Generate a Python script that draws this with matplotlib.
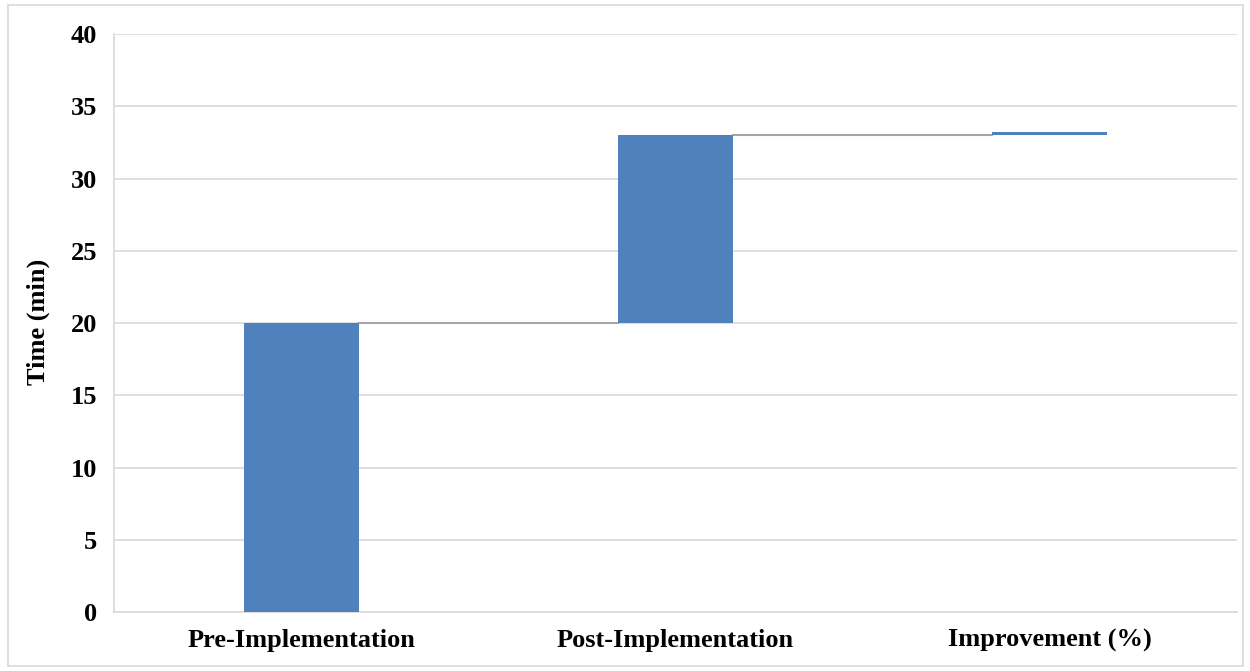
import matplotlib
matplotlib.use("Agg")
import matplotlib.pyplot as plt
from matplotlib.patches import Rectangle

categories = ["Pre-Implementation", "Post-Implementation", "Improvement (%)"]
changes = [20, 13, 0.2]

bar_color = "#4F81BD"
grid_color = "#D9D9D9"
conn_color = "#A6A6A6"

plt.rcParams["font.family"] = ["Liberation Serif", "DejaVu Serif"]
FS = 19

fig = plt.figure(figsize=(12.5, 6.71), dpi=100)
ax = fig.add_axes([0.0912, 0.0879, 0.8984, 0.8614])

# waterfall: each bar starts where the previous one ended
bottoms = []
running = 0
for c in changes:
    bottoms.append(running)
    running += c
tops = [b + c for b, c in zip(bottoms, changes)]

x = list(range(len(categories)))
width = 0.307
ax.bar(x, changes, bottom=bottoms, width=width, color=bar_color, zorder=3)

# connector lines between bars
for i in range(len(categories) - 1):
    ax.plot([x[i] + width / 2, x[i + 1] - width / 2], [tops[i], tops[i]],
            color=conn_color, linewidth=1.5, zorder=2)

ax.set_xlim(-0.5, len(categories) - 0.5)
ax.set_ylim(0, 40)
ax.set_yticks(range(0, 41, 5))
ax.set_xticks(x)
ax.set_xticklabels(categories, fontsize=FS, fontweight="bold")
for lbl in ax.get_yticklabels():
    lbl.set_fontsize(FS)
    lbl.set_fontweight("bold")
ax.tick_params(length=0)
ax.tick_params(axis="y", pad=12)
ax.tick_params(axis="x", pad=12)
ax.set_ylabel("Time (min)", fontsize=FS, fontweight="bold")
ax.yaxis.set_label_coords(-0.057, 0.502)

ax.grid(True, axis="y", color=grid_color, linewidth=1.2, zorder=0)
for s in ["top", "right"]:
    ax.spines[s].set_visible(False)
ax.spines["left"].set_color(grid_color)
ax.spines["bottom"].set_color(grid_color)
ax.spines["left"].set_linewidth(1.2)
ax.spines["bottom"].set_linewidth(1.2)

# thin grey border around the whole picture
fig.patches.append(Rectangle((0.006, 0.008), 0.988, 0.985, transform=fig.transFigure,
                             fill=False, edgecolor="#D9D9D9", linewidth=1.2))

fig.savefig("out.png", dpi=100)
